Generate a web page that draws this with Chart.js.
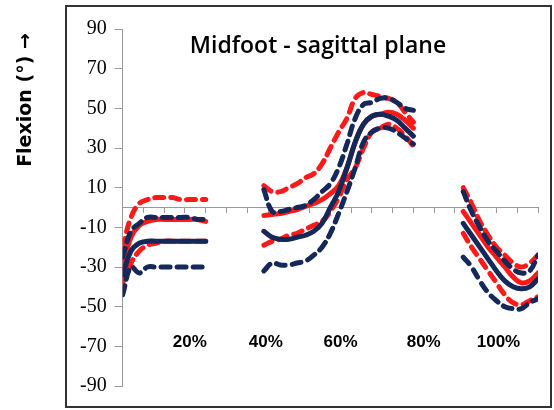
<!DOCTYPE html>
<html><head><meta charset="utf-8">
<script src="https://cdn.jsdelivr.net/npm/chart.js@4"></script>
<style>html,body{margin:0;padding:0;background:#fff}#w{width:554px;height:410px}</style>
</head><body><div id="w"><canvas id="c"></canvas></div>
<script>
const xs = [0,2,4,6,8,10,12,14,16,18,20, 34,36,38,40,42,44,46,48,50,52,54,56,58,60,62,64,66,68,70, 82,84,86,88,90,92,94,96,98,100];
const gapAfter = [20,70];
const redMean  = [-30,-15,-9,-7,-6,-6,-6,-6,-6,-6,-7, -4,-3.5,-3,-2,-1,0.5,2,4,7,11,20,33,42,46,47,48,47,44,40, -2,-8,-14,-20,-25,-30,-35,-38,-37,-33];
const redUp    = [-20,-5,2,4,5,5,5,4,4,4,4, 11,8,8,10,12,15,17,22,30,38,45,55,58,57,56,55,53,48,43, 10,2,-7,-14,-20,-24,-28,-30,-28,-24];
const redLow   = [-38,-28,-22,-19,-18,-17,-17,-17,-17,-17,-17, -19,-17,-16,-14,-13,-11,-9,-7,-2,5,14,20,30,38,40,42,40,36,31, -13,-20,-26,-32,-38,-44,-48,-49,-47,-45];
const navyUp   = [-25,-12,-8,-5,-5,-5,-5,-5,-5,-6,-6, 9,-2,-2,-1,0,1,4,8,12,20,32,45,52,53,55,55,53,50,49, 8,-2,-10,-17,-22,-27,-31,-33,-32,-24];
const navyMean = [-34,-22,-18,-17,-17,-17,-17,-17,-17,-17,-17, -12,-15,-16,-16,-15,-14,-12,-8,0,8,20,33,42,46,47,46,44,40,36, -8,-14,-20,-26,-32,-37,-40,-41,-40,-36];
const navyLow  = [-44,-30,-33,-30,-30,-30,-30,-30,-30,-30,-30, -32,-28,-29,-29,-28,-27,-24,-20,-13,-3,8,20,33,38,40,40,38,35,32, -25,-30,-37,-43,-47,-50,-51,-51,-48,-46];
const pctLabels = ['20%','40%','60%','80%','100%'];
const pctPos = [15.7,34,52,72,90];
const pctY = -68;
const yTicks = [90,70,50,30,10,-10,-30,-50,-70,-90];

function pts(arr){
  const out=[];
  xs.forEach((x,i)=>{ out.push({x:x,y:arr[i]}); if(gapAfter.includes(x)) out.push({x:x+1,y:null}); });
  return out;
}
const NAVY='#14285a', RED='#ff1a1a';
function ds(arr,color,dash,w){return {data:pts(arr),borderColor:color,borderWidth:w,borderDash:dash,pointRadius:0,tension:0.4,spanGaps:false,borderCapStyle:'round',fill:false};}

const deco={id:'deco',
  afterDraw(ch){
    const c=ch.ctx,xS=ch.scales.x,yS=ch.scales.y;
    c.save();
    c.strokeStyle='#333';c.lineWidth=2;c.strokeRect(66,6,485,401);
    c.fillStyle='#000';c.font='bold 17px "Liberation Sans", Arial';c.textAlign='center';c.textBaseline='middle';
    pctLabels.forEach((t,i)=>c.fillText(t,xS.getPixelForValue(pctPos[i])+2,yS.getPixelForValue(pctY)));
    c.font='600 23px "Open Sans", "Liberation Sans"';
    c.fillText('Midfoot - sagittal plane',318,46);
    c.translate(26,100);c.rotate(-Math.PI/2);
    c.font='bold 19px "DejaVu Sans", Arial';
    c.fillText('Flexion (°) →',0,0);
    c.restore();
  }};

new Chart(document.getElementById('c'),{
  type:'line',
  data:{datasets:[
    ds(navyUp,NAVY,[9,7],5), ds(navyLow,NAVY,[9,7],5), ds(navyMean,NAVY,[],5),
    ds(redUp,RED,[9,7],5), ds(redLow,RED,[9,7],5), ds(redMean,RED,[],5)
  ]},
  options:{responsive:true,maintainAspectRatio:false,animation:false,
    layout:{padding:{left:72,right:16,top:29,bottom:24}},
    plugins:{legend:{display:false},tooltip:{enabled:false}},
    scales:{
      x:{type:'linear',min:0,max:100,position:{y:0},
        ticks:{display:false,stepSize:5},
        grid:{drawOnChartArea:false,tickLength:5,color:'#999'},
        border:{color:'#999',width:1}},
      y:{min:-90,max:90,afterBuildTicks:s=>{s.ticks=yTicks.map(v=>({value:v}));},
        ticks:{color:'#000',font:{size:20,family:'"Liberation Serif", serif'},padding:8},
        grid:{drawOnChartArea:false,tickLength:8,color:'#999'},
        border:{color:'#999',width:1}}
    }},
  plugins:[deco]
});
</script></body></html>
